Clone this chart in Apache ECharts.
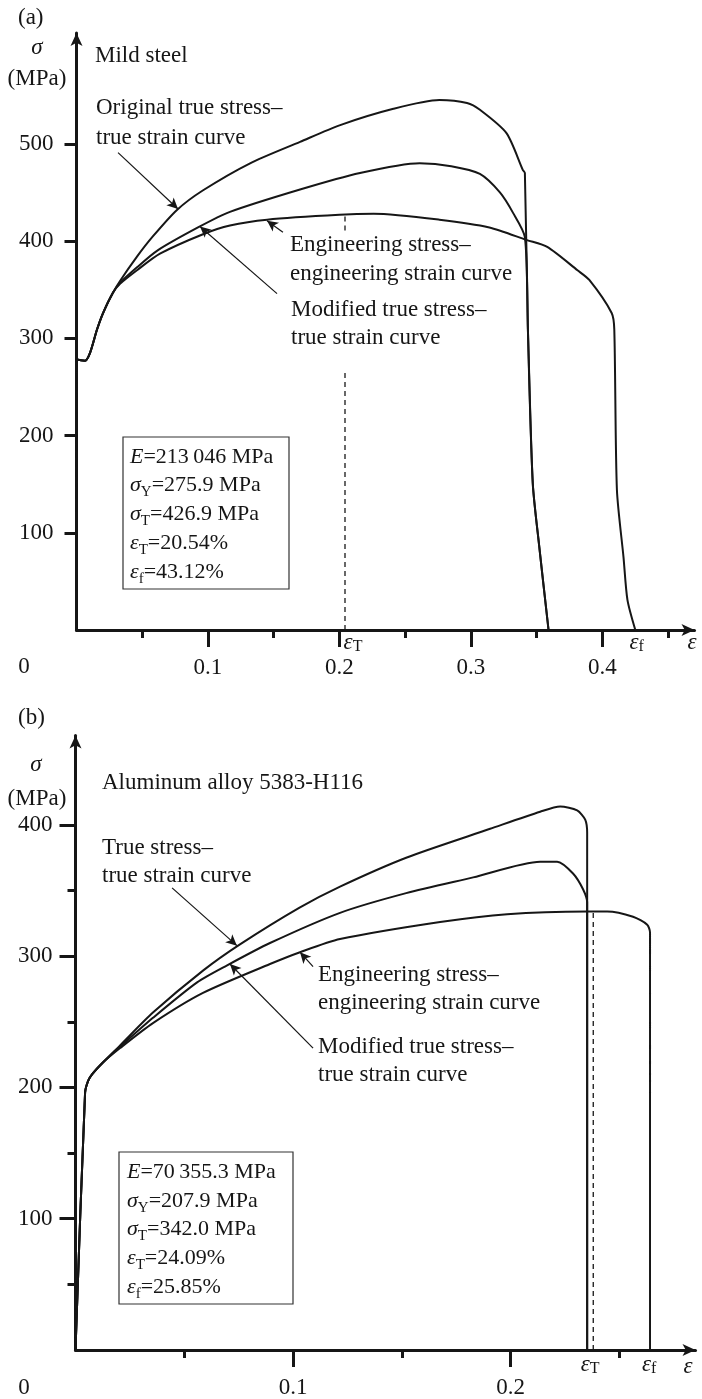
<!DOCTYPE html>
<html>
<head>
<meta charset="utf-8">
<script src="https://cdn.jsdelivr.net/npm/echarts@6/dist/echarts.min.js"></script>
<style>
  html, body { margin: 0; padding: 0; background: #fff; }
  #chart { width: 702px; height: 1399px; }
</style>
</head>
<body>
<div id="chart"></div>
<script>
// (a) Mild steel: [strain, stress MPa]
var steelStart = [[0, 0], [0.0011, 278], [0.0065, 277], [0.0103, 285], [0.0156, 309], [0.0202, 326], [0.0278, 347]];
var steelTrue = [[0.0331, 359], [0.046, 384], [0.0582, 405], [0.0764, 432], [0.096, 452], [0.132, 480], [0.170, 502], [0.200, 519],
  [0.241, 536], [0.276, 545], [0.297, 542], [0.3068, 535], [0.327, 511], [0.3395, 473], [0.341, 470], [0.3433, 309], [0.347, 151], [0.352, 85], [0.359, 0]];
var steelModified = [[0.0331, 357], [0.046, 373], [0.0612, 390], [0.0924, 414], [0.1167, 430], [0.170, 453], [0.2156, 470], [0.261, 480],
  [0.285, 477], [0.3068, 469], [0.322, 450], [0.332, 429], [0.341, 404], [0.3433, 309], [0.347, 151], [0.352, 85], [0.359, 0]];
var steelEng = [[0.0331, 356], [0.046, 370], [0.0635, 387], [0.0962, 407], [0.1167, 416], [0.145, 422], [0.200, 427], [0.226, 428],
  [0.276, 422], [0.314, 414], [0.3426, 401], [0.358, 394], [0.381, 370], [0.390, 360], [0.407, 326], [0.409, 309], [0.411, 144],
  [0.416, 75], [0.419, 31], [0.425, 0]];
var steelEpsT = 0.2042, steelSigT = 426.9;
var steelMajorX = [0.1, 0.2, 0.3, 0.4];
var steelMinorX = [0.05, 0.15, 0.25, 0.35, 0.45];
var steelTicksY = [100, 200, 300, 400, 500];
var steelEpsLabelPos = [0.2103, 0.426];
var steelEpsLabelSub = ['T', 'f'];
var steelProps = ['213\u2009046 MPa', '275.9 MPa', '426.9 MPa', '20.54%', '43.12%'];

// (b) Aluminum alloy 5383-H116
var aluStart = [[0, 0], [0.0044, 196], [0.0058, 205], [0.0076, 210], [0.0126, 219]];
var aluTrue = [[0.0205, 232], [0.0356, 257], [0.0586, 289], [0.0756, 309], [0.103, 337], [0.1216, 353], [0.152, 375], [0.1906, 397],
  [0.2136, 410], [0.2228, 414], [0.2306, 411], [0.2343, 404], [0.2352, 394], [0.2352, 0]];
var aluModified = [[0.0205, 231], [0.0356, 253], [0.0559, 280], [0.0697, 293], [0.0894, 310], [0.1216, 333], [0.152, 348], [0.1828, 360],
  [0.2136, 372], [0.2214, 372], [0.2287, 363], [0.2333, 351], [0.2352, 341], [0.2352, 0]];
var aluEng = [[0.0205, 230], [0.0356, 249], [0.0586, 272], [0.0894, 294], [0.1032, 303], [0.1216, 313], [0.1676, 326], [0.1984, 332],
  [0.2352, 334], [0.2444, 334], [0.2563, 330], [0.2628, 324], [0.2641, 318], [0.2641, 0]];
var aluEpsT = 0.238, aluSigT = 334;
var aluMajorX = [0.1, 0.2];
var aluMinorX = [0.05, 0.15, 0.25];
var aluTicksY = [100, 200, 300, 400];
var aluMinorY = [50, 150, 250, 350];
var aluEpsLabelPos = [0.2366, 0.2637];
var aluEpsLabelSub = ['T', 'f'];
var aluProps = ['70\u2009355.3 MPa', '207.9 MPa', '342.0 MPa', '24.09%', '25.85%'];

var INK = '#161616';
var FONT = '"Liberation Serif", "Times New Roman", serif';
var FS = 23;

var chart = echarts.init(document.getElementById('chart'));

var subRich = {
  g: { fontFamily: FONT, fontSize: FS, fontStyle: 'italic', color: INK, lineHeight: 24 },
  s: { fontFamily: FONT, fontSize: 16, color: INK, lineHeight: 16, verticalAlign: 'bottom' }
};

function mainX(grid, max, major, labels) {
  return {
    type: 'value', gridIndex: grid, min: 0, max: max, position: 'bottom',
    axisLine: { show: true, onZero: false, symbol: ['none', 'arrow'], symbolSize: [9, 13], lineStyle: { color: INK, width: 3 } },
    axisTick: { show: true, customValues: major, length: 17, lineStyle: { color: INK, width: 3 } },
    axisLabel: { show: true, customValues: labels, margin: 26, fontFamily: FONT, fontSize: FS, color: INK },
    splitLine: { show: false }
  };
}
function minorX(grid, max, minor) {
  return {
    type: 'value', gridIndex: grid, min: 0, max: max, position: 'bottom',
    axisLine: { show: false, onZero: false },
    axisTick: { show: true, customValues: minor, length: 8, lineStyle: { color: INK, width: 3 } },
    axisLabel: { show: false }, splitLine: { show: false }
  };
}
function epsX(grid, max, pos, subs, margin) {
  return {
    type: 'value', gridIndex: grid, min: 0, max: max, position: 'bottom',
    axisLine: { show: false, onZero: false }, axisTick: { show: false }, splitLine: { show: false },
    axisLabel: {
      show: true, customValues: pos, margin: margin, rich: subRich,
      formatter: function (v) { return '{g|ε}{s|' + subs[pos.indexOf(v)] + '}'; }
    }
  };
}
function mainY(grid, max, ticks, len) {
  return {
    type: 'value', gridIndex: grid, min: 0, max: max, position: 'left',
    axisLine: { show: true, onZero: false, symbol: ['none', 'arrow'], symbolSize: [9, 13], lineStyle: { color: INK, width: 3 } },
    axisTick: { show: true, customValues: ticks, length: len, lineStyle: { color: INK, width: 3 } },
    axisLabel: { show: true, customValues: ticks, margin: 23, fontFamily: FONT, fontSize: FS, color: INK },
    splitLine: { show: false }
  };
}

function curve(name, xi, yi, data) {
  return {
    name: name, type: 'line', xAxisIndex: xi, yAxisIndex: yi, data: data,
    showSymbol: false, smooth: 0.25, lineStyle: { color: INK, width: 2 }, silent: true
  };
}
function dashed(xi, yi, data) {
  return {
    type: 'line', xAxisIndex: xi, yAxisIndex: yi, data: data, showSymbol: false,
    lineStyle: { color: INK, width: 1.3, type: [5, 4] }, silent: true
  };
}
function arrows(xi, yi, list) {
  return {
    type: 'line', xAxisIndex: xi, yAxisIndex: yi, data: [], silent: true,
    markLine: {
      silent: true, animation: false, symbol: ['none', 'arrow'], symbolSize: [8, 11],
      label: { show: false }, lineStyle: { color: INK, width: 1.2, type: 'solid' },
      data: list.map(function (a) { return [{ coord: a[0] }, { coord: a[1] }]; })
    }
  };
}

function txt(x, y, text, opt) {
  opt = opt || {};
  return {
    type: 'text', x: x, y: y, silent: true,
    style: {
      text: text, fontFamily: FONT, fontSize: opt.size || FS, fontStyle: opt.italic ? 'italic' : 'normal',
      fill: INK, align: opt.align || 'left', verticalAlign: opt.va || 'middle', lineHeight: opt.lh || FS,
      rich: opt.rich
    }
  };
}

var boxRich = {
  n: { fontFamily: FONT, fontSize: 22, color: INK, lineHeight: 28.7 },
  i: { fontFamily: FONT, fontSize: 22, fontStyle: 'italic', color: INK, lineHeight: 28.7 },
  s: { fontFamily: FONT, fontSize: 15, color: INK, lineHeight: 15, verticalAlign: 'bottom' }
};
function boxText(p) {
  return '{i|E}{n|=' + p[0] + '}\n' +
    '{i|σ}{s|Y}{n|=' + p[1] + '}\n' +
    '{i|σ}{s|T}{n|=' + p[2] + '}\n' +
    '{i|ε}{s|T}{n|=' + p[3] + '}\n' +
    '{i|ε}{s|f}{n|=' + p[4] + '}';
}

var option = {
  animation: false,
  backgroundColor: '#fff',
  grid: [
    { left: 76.5, top: 33, width: 618, height: 597, containLabel: false },
    { left: 75.5, top: 735.6, width: 620, height: 615.4, containLabel: false }
  ],
  xAxis: [
    mainX(0, 0.47, steelMajorX, steelMajorX),
    minorX(0, 0.47, steelMinorX),
    epsX(0, 0.47, steelEpsLabelPos, steelEpsLabelSub, 1),
    mainX(1, 0.285, aluMajorX, aluMajorX),
    minorX(1, 0.285, aluMinorX),
    epsX(1, 0.285, aluEpsLabelPos, aluEpsLabelSub, 3)
  ],
  yAxis: [
    mainY(0, 614, steelTicksY, 12),
    mainY(1, 468, aluTicksY, 16),
    {
      type: 'value', gridIndex: 1, min: 0, max: 468, position: 'left',
      axisLine: { show: false, onZero: false },
      axisTick: { show: true, customValues: aluMinorY, length: 8, lineStyle: { color: INK, width: 3 } },
      axisLabel: { show: false }, splitLine: { show: false }
    }
  ],
  series: [
    curve('Original true stress–true strain', 0, 0, steelStart.concat(steelTrue)),
    curve('Modified true stress–true strain', 0, 0, steelStart.concat(steelModified)),
    curve('Engineering stress–engineering strain', 0, 0, steelStart.concat(steelEng)),
    dashed(0, 0, [[steelEpsT, 0], [steelEpsT, 265]]),
    dashed(0, 0, [[steelEpsT, 411], [steelEpsT, steelSigT]]),
    arrows(0, 0, [
      [[0.0316, 491], [0.0772, 433]],
      [[0.157, 409], [0.1449, 421]],
      [[0.1525, 346], [0.0939, 415]]
    ]),
    curve('True stress–true strain', 3, 1, aluStart.concat(aluTrue)),
    curve('Modified true stress–true strain', 3, 1, aluStart.concat(aluModified)),
    curve('Engineering stress–engineering strain', 3, 1, aluStart.concat(aluEng)),
    dashed(3, 1, [[aluEpsT, 0], [aluEpsT, aluSigT]]),
    arrows(3, 1, [
      [[0.0444, 352], [0.0742, 308]],
      [[0.1092, 292], [0.1032, 303]],
      [[0.1092, 230], [0.0710, 294]]
    ])
  ],
  graphic: [
    // panel (a)
    txt(18, 18, '(a)'),
    txt(37, 48, 'σ', { italic: true, align: 'center' }),
    txt(37, 79, '(MPa)', { align: 'center' }),
    txt(95, 56, 'Mild steel'),
    txt(96, 93, 'Original true stress–\ntrue strain curve', { va: 'top', lh: 30 }),
    txt(290, 230.5, 'Engineering stress–\nengineering strain curve', { va: 'top', lh: 29 }),
    txt(291, 296, 'Modified true stress–\ntrue strain curve', { va: 'top', lh: 28 }),
    txt(24, 667, '0', { align: 'center' }),
    txt(692, 643, 'ε', { italic: true, align: 'center' }),
    { type: 'rect', shape: { x: 123, y: 437, width: 166, height: 152 }, style: { fill: 'none', stroke: '#333', lineWidth: 1.2 }, silent: true },
    txt(130, 442.6, boxText(steelProps), { va: 'top', rich: boxRich, lh: 28.7 }),
    // panel (b)
    txt(18, 718, '(b)'),
    txt(36, 765, 'σ', { italic: true, align: 'center' }),
    txt(37, 799, '(MPa)', { align: 'center' }),
    txt(102, 783, 'Aluminum alloy 5383-H116'),
    txt(102, 834, 'True stress–\ntrue strain curve', { va: 'top', lh: 28 }),
    txt(318, 961, 'Engineering stress–\nengineering strain curve', { va: 'top', lh: 28 }),
    txt(318, 1033, 'Modified true stress–\ntrue strain curve', { va: 'top', lh: 28 }),
    txt(24, 1388, '0', { align: 'center' }),
    txt(688, 1367, 'ε', { italic: true, align: 'center' }),
    { type: 'rect', shape: { x: 119, y: 1152, width: 174, height: 152 }, style: { fill: 'none', stroke: '#333', lineWidth: 1.2 }, silent: true },
    txt(127, 1157.7, boxText(aluProps), { va: 'top', rich: boxRich, lh: 28.5 })
  ]
};

chart.setOption(option);
</script>
</body>
</html>
